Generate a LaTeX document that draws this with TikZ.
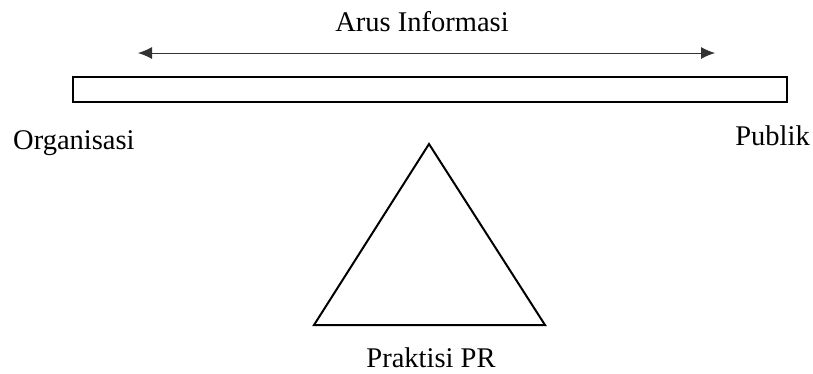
\documentclass[tikz,border=0pt]{standalone}
\usepackage{fontspec}
\setmainfont{Liberation Serif}
\usetikzlibrary{arrows.meta}
\begin{document}
\begin{tikzpicture}[x=1pt,y=-1pt,
  label text/.style={font=\fontsize{28.5}{34}\selectfont, inner sep=0pt, anchor=base},
  beambox/.style={draw=black, line width=2pt, minimum width=714pt, minimum height=25pt, inner sep=0pt},
  flow/.style={draw=black!80, line width=1pt, {Latex[length=14pt,width=12pt]}-{Latex[length=14pt,width=12pt]}},
  fulcrum/.style={draw=black, line width=2pt, line join=miter}
]
\useasboundingbox (0,0) rectangle (813,373);

% the beam
\node[beambox] (beam) at (430,89.5) {};

% information flow arrow above the beam
\coordinate (flowL) at (138,53);
\coordinate (flowR) at (715,53);
\draw[flow] (flowL) -- (flowR);

% fulcrum triangle
\coordinate (apex) at (429,144);
\coordinate (baseL) at (314,325);
\coordinate (baseR) at (545,325);
\draw[fulcrum] (apex) -- (baseR) -- (baseL) -- cycle;

% labels
\node[label text] (arus) at (422,31) {Arus Informasi};
\node[label text, anchor=base west] (org) at (13,149) {Organisasi};
\node[label text, anchor=base east] (pub) at (810,145) {Publik};
\node[label text] (pr) at (431,367) {Praktisi PR};
\end{tikzpicture}
\end{document}
